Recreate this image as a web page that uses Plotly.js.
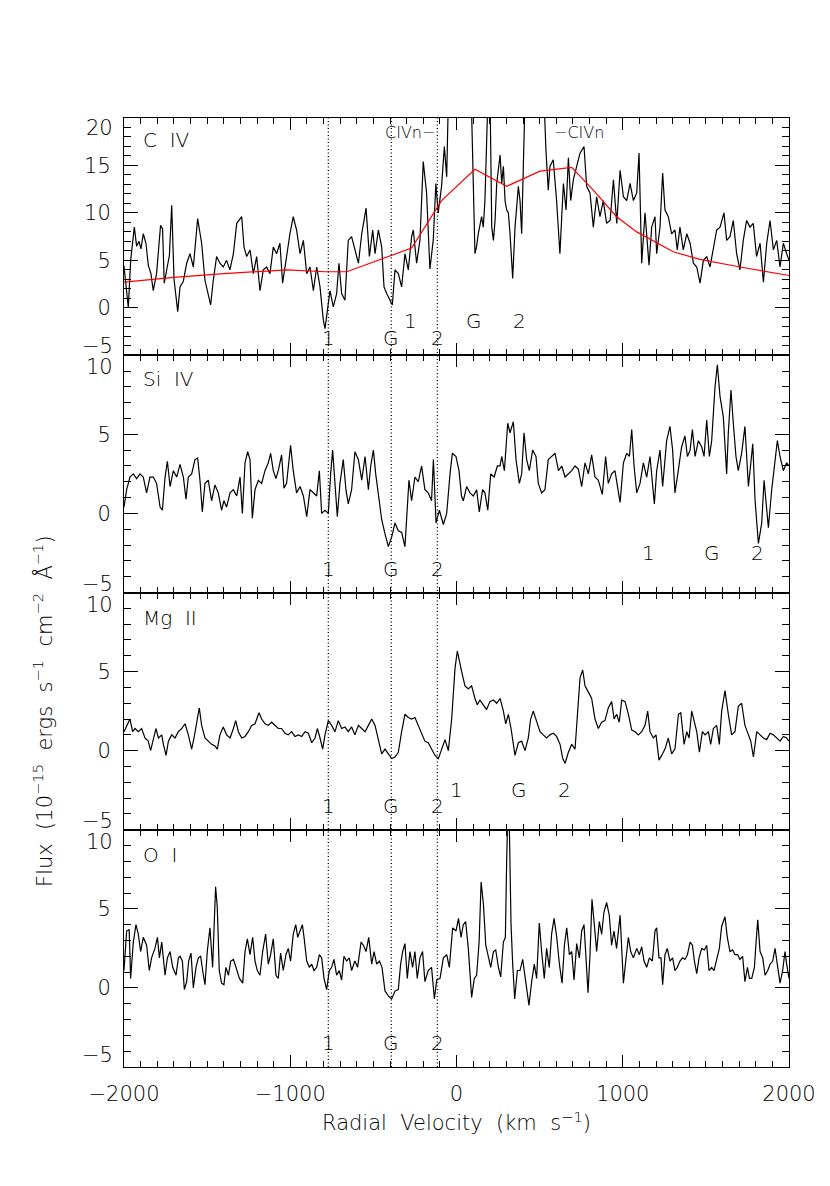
<!DOCTYPE html>
<html>
<head>
<meta charset="utf-8">
<script src="https://cdn.plot.ly/plotly-3.0.1.min.js"></script>
<style>
  body { margin: 0; background: #fff; }
  #graph { width: 830px; height: 1186px; }
</style>
</head>
<body>
<div id="graph"></div>
<script>
// ---------- data (velocity in km/s, flux in 1e-15 erg/s/cm2/A) ----------
const civVel = [
  -2000,-1984,-1974,-1960,-1938,-1924,-1910,-1898,-1884,-1868,
  -1854,-1838,-1824,-1804,-1780,-1768,-1758,-1740,-1727,-1713,
  -1699,-1677,-1663,-1643,-1623,-1603,-1583,-1557,-1533,-1513,
  -1479,-1463,-1443,-1423,-1403,-1383,-1363,-1342,-1322,-1292,
  -1278,-1262,-1242,-1222,-1202,-1182,-1162,-1142,-1122,-1102,
  -1082,-1062,-1046,-1022,-1002,-982,-962,-941,-921,-901,
  -881,-861,-841,-821,-801,-791,-771,-761,-741,-721,
  -707,-691,-671,-651,-631,-611,-590,-570,-544,-524,
  -504,-490,-470,-450,-436,-420,-400,-386,-370,-350,
  -330,-310,-290,-270,-260,-240,-220,-200,-180,-160,
  -140,-124,-110,-90,-73,-59,-49,-20,20,60,
  91,101,111,121,131,151,161,171,181,192,
  202,212,222,232,242,262,272,282,292,302,
  312,322,338,352,372,382,392,402,412,440,
  480,520,538,552,562,582,602,622,643,659,
  673,687,703,723,743,767,783,803,823,843,
  863,883,903,924,944,964,984,1004,1024,1044,
  1064,1084,1098,1114,1134,1158,1174,1194,1204,1224,
  1240,1254,1274,1294,1314,1328,1344,1364,1385,1405,
  1425,1445,1465,1485,1505,1525,1545,1565,1585,1609,
  1625,1645,1665,1685,1705,1725,1745,1765,1785,1805,
  1826,1846,1866,1886,1906,1926,1946,1966,1986,2000
];
const civFlux = [
  4.4,2.0,0.0,5.0,8.5,6.5,7.0,6.2,7.8,6.8,
  4.5,3.6,1.8,3.6,8.7,8.3,2.6,4.3,5.5,10.8,
  3.0,-0.4,2.2,2.8,4.7,5.7,4.3,9.4,6.8,2.9,
  0.3,2.9,5.4,4.7,4.3,5.0,4.0,5.7,8.9,9.6,
  6.4,5.4,6.1,3.6,5.4,1.8,4.0,4.3,3.6,6.4,
  5.7,6.8,2.6,5.4,7.8,9.6,8.2,5.7,7.1,3.6,
  4.3,1.8,4.3,2.2,-1.3,-2.2,0.8,1.8,0.1,1.5,
  4.7,1.5,0.8,7.1,7.5,6.1,4.7,7.8,10.5,5.4,
  8.2,5.7,8.2,6.4,2.2,1.5,0.8,0.3,4.0,3.6,
  2.2,5.7,4.0,7.5,8.2,4.7,7.1,15.4,12.1,4.1,
  7.1,13.1,10.0,12.8,17.0,13.8,22,26,27,25,
  20.5,12.0,5.7,6.5,7.8,9.6,8.5,11.3,18.4,24,
  22,8.5,7.1,9.2,13.1,16.1,13.1,14.9,11.3,10.3,
  10.0,7.8,3.1,8.5,12.8,11.3,7.8,16.6,22,26,
  28,25,16.6,12.4,14.9,15.6,11.3,5.7,13.1,10.3,
  15.8,11.3,13.5,14.9,16.3,17.0,12.8,12.1,8.5,11.7,
  9.6,11.3,8.9,9.2,13.5,8.9,14.5,11.7,11.3,13.1,
  11.3,12.1,16.3,4.7,10.0,4.5,8.5,9.6,5.7,8.5,
  14.2,10.3,9.6,7.8,8.2,6.1,8.5,6.1,7.8,6.8,
  4.7,4.3,2.6,5.0,5.4,4.3,6.4,8.2,8.5,10.0,
  7.1,7.5,9.2,5.7,4.0,7.1,9.2,8.5,8.9,5.4,
  6.8,2.7,6.8,9.2,6.1,7.1,4.3,6.8,5.7,5.0
];
// continuum fit drawn in red on the C IV panel
const civContVel = [-2000,-1700,-1400,-1020,-790,-660,-270,-90,111,302,502,693,823,963,1084,1304,1465,1705,2000];
const civContFlux = [2.7,3.2,3.6,4.0,3.8,3.8,6.3,11.3,14.6,12.8,14.4,14.8,12.4,9.6,8.0,5.9,5.1,4.3,3.4];

const siivVel = [
  -2000,-1984,-1964,-1944,-1924,-1904,-1884,-1864,-1844,-1824,
  -1804,-1783,-1769,-1753,-1739,-1723,-1703,-1683,-1663,-1643,
  -1627,-1613,-1593,-1573,-1557,-1543,-1529,-1513,-1493,-1473,
  -1453,-1433,-1413,-1399,-1383,-1362,-1342,-1322,-1302,-1288,
  -1272,-1256,-1242,-1228,-1212,-1192,-1172,-1152,-1132,-1118,
  -1102,-1086,-1072,-1052,-1038,-1022,-998,-982,-962,-941,
  -921,-901,-881,-861,-841,-825,-811,-791,-771,-757,
  -745,-731,-717,-701,-681,-665,-651,-631,-611,-590,
  -570,-550,-530,-516,-500,-486,-470,-450,-430,-410,
  -390,-370,-350,-330,-310,-300,-286,-270,-250,-230,
  -210,-190,-170,-150,-139,-123,-103,-79,-59,-39,
  -25,-3,15,30,41,61,81,101,121,137,
  157,171,188,206,226,246,262,272,288,308,
  322,342,358,378,392,406,422,438,458,478,
  492,512,532,552,572,593,613,633,653,673,
  693,713,733,753,773,793,813,833,853,877,
  897,913,933,953,984,1004,1024,1040,1054,1068,
  1084,1104,1124,1144,1164,1190,1204,1224,1240,1264,
  1284,1300,1314,1334,1354,1374,1389,1405,1419,1435,
  1455,1475,1489,1505,1521,1535,1555,1569,1585,1605,
  1625,1635,1651,1665,1681,1695,1715,1735,1756,1782,
  1796,1816,1836,1850,1876,1896,1916,1930,1946,1966,
  1986,2000
];
const siivFlux = [
  0.4,1.5,2.3,2.5,2.2,2.5,2.3,1.3,2.3,2.3,
  1.9,0.4,0.2,2.3,3.3,1.7,2.7,2.3,3.1,2.3,
  0.9,2.3,2.5,3.4,3.5,2.1,0.1,1.9,2.1,0.8,
  1.8,1.3,0.2,0.8,0.4,1.3,1.5,1.1,2.3,0.0,
  3.2,3.9,3.4,-0.3,1.5,2.1,1.9,2.7,3.2,3.8,
  2.7,2.2,2.7,3.7,1.6,1.9,4.3,2.7,1.3,1.7,
  1.1,-0.2,1.5,1.3,1.1,2.7,0.0,0.2,0.0,2.5,
  4.0,1.9,-0.2,1.9,3.4,1.5,0.6,1.5,3.9,3.4,
  2.1,3.6,1.5,3.0,4.0,2.5,1.1,-0.4,-1.3,-2.1,
  -1.5,-0.6,-1.1,-1.2,-2.1,-0.6,2.1,0.8,2.3,2.0,
  3.0,1.5,1.3,0.8,3.4,-0.6,0.2,-0.7,0.0,2.5,
  3.8,3.6,2.7,1.1,0.8,1.7,1.3,1.1,1.5,0.1,
  1.5,1.3,0.2,2.5,2.3,3.0,3.0,3.6,2.7,5.7,
  5.1,5.8,3.4,1.9,2.5,5.1,3.4,2.7,4.0,3.6,
  1.9,1.3,1.5,3.4,3.6,3.8,2.7,3.0,2.3,2.5,
  2.7,3.0,2.8,1.7,3.2,2.5,3.7,2.3,2.1,1.2,
  3.6,1.9,2.5,2.7,0.7,3.2,3.8,3.6,5.3,3.0,
  1.3,1.9,3.2,2.3,3.6,0.6,2.7,4.0,1.7,4.6,
  5.5,4.0,1.3,2.7,4.2,4.9,3.6,4.0,5.3,3.6,
  4.6,4.2,3.6,5.9,3.6,4.6,8.0,9.4,7.4,6.1,
  2.5,5.1,7.8,5.7,3.6,2.7,3.8,5.5,1.7,4.4,
  0.8,-1.9,-0.6,2.1,-0.9,1.5,3.4,4.6,3.6,2.7,
  3.2,3.0
];

const mgiiVel = [
  -2000,-1984,-1964,-1948,-1934,-1914,-1894,-1874,-1854,-1840,
  -1824,-1808,-1793,-1773,-1763,-1747,-1733,-1713,-1693,-1673,
  -1653,-1633,-1613,-1593,-1579,-1559,-1547,-1533,-1513,-1493,
  -1473,-1453,-1439,-1423,-1403,-1383,-1362,-1342,-1328,-1312,
  -1292,-1272,-1252,-1232,-1212,-1188,-1172,-1152,-1132,-1112,
  -1092,-1072,-1052,-1032,-1012,-992,-972,-951,-931,-911,
  -891,-871,-851,-837,-821,-805,-791,-771,-751,-731,
  -711,-691,-671,-651,-631,-611,-590,-570,-550,-530,
  -510,-490,-470,-450,-430,-410,-390,-370,-350,-330,
  -310,-290,-270,-250,-230,-210,-190,-170,-150,-129,
  -109,-89,-69,-49,-29,-9,5,
  31,51,71,91,111,125,141,161,181,201,
  222,242,262,282,296,312,328,352,372,392,
  412,432,446,462,482,502,522,542,562,582,
  602,623,639,653,673,693,713,727,743,759,
  773,793,813,833,853,873,893,913,933,948,
  963,979,994,1014,1034,1054,1074,1094,1114,1134,
  1150,1164,1184,1200,1218,1234,1254,1274,1294,1314,
  1335,1349,1369,1385,1399,1415,1429,1445,1461,1479,
  1495,1515,1529,1545,1565,1581,1595,1615,1635,1655,
  1675,1695,1715,1735,1756,1770,1786,1806,1826,1846,
  1866,1886,1906,1926,1946,1966,1986,2000
];
const mgiiFlux = [
  1.2,1.6,2.0,1.2,1.4,1.2,1.4,0.8,0.6,0.0,
  0.8,1.4,0.8,1.0,0.4,-0.3,0.6,1.0,0.8,1.2,
  1.4,1.7,1.0,0.1,0.8,2.0,2.7,1.6,0.8,0.6,
  0.4,0.3,0.1,1.0,1.5,1.0,0.8,1.4,1.9,1.2,
  0.8,0.9,1.2,1.6,1.7,2.4,2.0,1.7,1.6,1.8,
  1.6,1.4,1.4,1.1,1.0,1.2,0.9,1.0,0.9,1.2,
  1.1,0.5,0.8,1.4,0.8,0.1,1.0,1.9,1.6,1.2,
  1.9,1.4,1.5,1.2,1.5,1.0,1.6,1.4,1.2,1.6,
  2.0,1.6,0.6,-0.2,0.1,-0.2,-0.5,-0.4,-0.1,1.2,
  2.3,2.1,2.0,2.1,1.6,1.0,0.6,0.5,0.1,-0.3,
  -0.5,0.1,0.7,0.0,2.0,5.2,6.3,
  5.0,4.1,3.9,4.1,3.3,2.9,3.2,2.9,2.6,3.1,
  3.2,3.0,3.3,2.5,1.7,2.3,1.4,-0.3,0.5,0.6,
  0.0,0.8,2.0,2.5,1.8,1.2,1.0,0.8,1.0,1.1,
  0.9,0.4,-0.5,-0.8,-0.1,0.4,0.1,2.5,4.6,5.1,
  4.1,3.7,3.3,2.0,1.4,1.8,1.9,2.7,3.1,2.0,
  2.3,1.8,3.2,3.1,2.3,1.3,1.2,1.0,1.2,1.6,
  2.5,1.2,0.8,1.0,-0.6,-0.3,0.1,0.8,-0.2,0.1,
  2.3,2.4,0.4,1.2,0.8,2.5,1.8,1.2,-0.1,1.2,
  1.0,1.2,0.4,1.4,1.6,0.4,2.5,3.8,2.3,1.0,
  1.2,2.8,3.0,1.6,1.0,0.6,-0.4,1.2,1.0,0.8,
  0.7,1.1,1.0,0.8,0.6,0.9,0.8,0.6
];

const oiVel = [
  -2000,-1984,-1969,-1960,-1944,-1928,-1914,-1900,-1884,-1864,
  -1848,-1834,-1814,-1799,-1787,-1773,-1753,-1739,-1723,-1707,
  -1687,-1673,-1663,-1649,-1637,-1623,-1611,-1597,-1583,-1567,
  -1553,-1539,-1527,-1513,-1499,-1483,-1467,-1457,-1449,-1439,
  -1427,-1413,-1399,-1387,-1372,-1358,-1342,-1326,-1306,-1286,
  -1272,-1258,-1242,-1226,-1212,-1198,-1182,-1166,-1148,-1132,
  -1118,-1102,-1086,-1072,-1058,-1042,-1026,-1012,-998,-982,
  -967,-955,-941,-927,-917,-901,-885,-871,-857,-841,
  -825,-811,-797,-781,-765,-751,-737,-721,-705,-691,
  -677,-661,-645,-631,-611,-595,-574,-560,-544,-528,
  -510,-496,-480,-464,-448,-430,-410,-390,-370,-350,
  -336,-324,-310,-296,-280,-264,-250,-236,-220,-204,
  -190,-170,-150,-133,-119,-99,-79,-59,-43,-23,
  -3,12,
  27,41,55,71,91,107,121,136,148,162,
  176,192,206,222,236,252,266,282,294,302,
  310,318,328,338,350,366,382,398,412,426,
  436,452,468,482,498,512,528,542,558,572,
  587,603,619,635,649,663,679,693,707,723,
  739,753,767,779,791,803,815,829,843,859,
  873,887,903,919,933,947,963,984,1004,1020,
  1034,1048,1064,1084,1100,1114,1128,1144,1160,1178,
  1194,1204,1218,1230,1240,1254,1268,1284,1300,1314,
  1328,1344,1360,1374,1389,1405,1419,1431,1445,1459,
  1475,1491,1505,1519,1535,1549,1565,1581,1595,1615,
  1629,1645,1661,1675,1691,1705,1721,1735,1750,1762,
  1776,1792,1802,1812,1826,1842,1856,1872,1886,1902,
  1916,1930,1946,1962,1976,1986,2000
];
const oiFlux = [
  1.1,3.6,3.7,0.6,2.9,4.0,3.4,2.3,3.2,2.7,
  1.1,1.9,2.5,3.2,1.9,2.9,0.8,1.9,2.3,1.3,
  0.8,1.9,2.0,1.7,-0.1,0.4,1.7,2.2,0.0,1.3,
  1.9,2.0,1.1,0.2,2.3,3.8,1.3,4.4,6.4,5.1,
  1.1,0.3,0.2,1.3,0.8,1.7,1.8,1.3,0.6,0.3,
  2.3,3.1,2.1,3.2,1.7,1.1,0.8,2.3,3.4,1.5,
  2.1,3.1,0.8,0.6,2.2,1.1,2.1,2.5,1.7,3.4,
  4.0,3.2,3.6,4.0,3.2,1.7,1.3,1.5,1.1,1.3,
  2.1,1.9,0.6,-0.1,1.1,1.3,1.8,0.8,1.1,0.5,
  2.0,1.7,1.9,1.1,1.7,1.3,2.9,2.7,2.3,3.2,
  1.5,2.3,1.5,1.7,1.3,-0.2,-0.5,-0.7,-0.2,-0.1,
  1.5,2.3,2.8,0.6,2.3,1.3,2.3,0.6,1.9,2.3,
  0.4,1.1,1.3,-0.7,0.5,0.6,1.9,2.1,1.3,3.8,
  3.6,4.4,
  3.2,4.0,4.2,2.5,-0.6,0.6,0.8,2.9,6.7,5.3,
  2.7,1.9,1.3,2.3,2.4,1.3,0.7,2.9,3.2,8.2,
  11.5,10.1,4.0,1.5,-0.7,1.1,1.1,1.8,0.6,-0.3,
  -1.1,0.4,1.5,0.6,4.1,2.3,0.6,2.5,1.3,3.4,
  4.4,3.2,1.5,0.3,2.7,3.8,2.1,2.3,0.5,2.8,
  1.9,3.6,4.0,1.9,-0.3,2.1,5.6,4.0,2.3,4.2,
  3.4,4.8,5.4,4.6,2.7,3.6,2.5,4.6,0.3,1.9,
  3.2,2.3,1.9,2.5,2.1,2.6,1.7,1.3,1.9,1.7,
  3.6,3.8,1.9,1.9,0.2,2.1,2.5,1.7,1.9,1.1,
  1.3,1.7,1.9,1.8,2.1,2.9,2.7,1.7,0.9,1.9,
  2.5,2.4,2.7,1.1,1.3,1.1,1.9,2.5,3.9,4.5,
  3.2,2.3,2.4,2.1,2.1,1.8,2.0,0.4,1.3,0.6,
  0.6,1.3,2.9,4.3,2.3,1.9,0.8,1.1,1.5,1.7,
  2.5,1.5,0.3,1.1,2.3,1.5,0.6
];

// absorber velocities (dotted lines) and their labels
const markVel = [-771, -392, -115];
const markText = ['1', 'G', '2'];
// same absorbers seen in the second doublet member
const civnMarkVel = [-275, 105, 380];
const siivMarkVel = [1155, 1537, 1810];
const mgiiMarkVel = [-3, 378, 652];

const panelNames = ['C\u00a0\u00a0IV', 'Si\u00a0\u00a0IV', 'Mg\u00a0\u00a0II', 'O\u00a0\u00a0I'];

// ---------- styling ----------
const FAM = 'DejaVu Sans, sans-serif';
const tickFont = { family: FAM, size: 21, color: 'black', weight: 300 };
const textFont = { family: FAM, size: 20, color: 'black', weight: 300 };

function xAxis(anchor, showLabels) {
  return {
    anchor: anchor, domain: [0, 1], range: [-2000, 2000],
    ticks: 'inside', ticklen: 12, tickwidth: 1, tickcolor: 'black',
    tick0: 0, dtick: 1000,
    minor: { ticks: 'inside', ticklen: 6, tickwidth: 1, tickcolor: 'black', tick0: 0, dtick: 100, showgrid: false },
    showline: true, linecolor: 'black', linewidth: 1, mirror: 'allticks',
    showgrid: false, zeroline: false,
    showticklabels: showLabels, tickfont: tickFont, ticklabelstandoff: 8
  };
}
function yAxis(anchor, domain, range, vals) {
  return {
    anchor: anchor, domain: domain, range: range,
    ticks: 'inside', ticklen: 14, tickwidth: 1, tickcolor: 'black',
    tickmode: 'array', tickvals: vals,
    minor: { ticks: 'inside', ticklen: 7, tickwidth: 1, tickcolor: 'black', tick0: 0, dtick: 1, showgrid: false },
    showline: true, linecolor: 'black', linewidth: 1, mirror: 'allticks',
    showgrid: false, zeroline: false,
    tickfont: tickFont, ticklabelstandoff: 8
  };
}

const black = { color: 'black', width: 1.2 };
const data = [
  { x: civVel, y: civFlux, xaxis: 'x', yaxis: 'y', mode: 'lines', line: black },
  { x: civContVel, y: civContFlux, xaxis: 'x', yaxis: 'y', mode: 'lines', line: { color: 'red', width: 1.2 } },
  { x: siivVel, y: siivFlux, xaxis: 'x2', yaxis: 'y2', mode: 'lines', line: black },
  { x: mgiiVel, y: mgiiFlux, xaxis: 'x3', yaxis: 'y3', mode: 'lines', line: black },
  { x: oiVel, y: oiFlux, xaxis: 'x4', yaxis: 'y4', mode: 'lines', line: black }
];

const yNames = ['y', 'y2', 'y3', 'y4'];
const xNames = ['x', 'x2', 'x3', 'x4'];
const annotations = [];

// panel names
const nameY = [17.65, 8.5, 8.4, 8.4];
panelNames.forEach((t, i) => {
  annotations.push({ xref: xNames[i], yref: yNames[i], x: -1900, y: nameY[i], xanchor: 'left', yanchor: 'middle',
    text: t, showarrow: false, font: textFont });
});

// absorber labels under the dotted lines
const lowY = [-3.2, -3.5, -3.5, -3.5];
yNames.forEach((yn, i) => {
  markVel.forEach((v, j) => {
    annotations.push({ xref: xNames[i], yref: yn, x: v, y: lowY[i], text: markText[j], showarrow: false, font: textFont });
  });
});
const secondRows = [[civnMarkVel, 'y', -1.4], [siivMarkVel, 'y2', -2.5], [mgiiMarkVel, 'y3', -2.5]];
secondRows.forEach(([vels, yn, yv]) => {
  vels.forEach((v, j) => {
    annotations.push({ xref: 'x', yref: yn, x: v, y: yv, text: markText[j], showarrow: false, font: textFont });
  });
});

// CIVn labels
const smallFont = { family: FAM, size: 16, color: 'black', weight: 300 };
annotations.push({ xref: 'x', yref: 'y', x: -115, y: 18.5, xanchor: 'right', text: 'CIVn\u2212', showarrow: false, font: smallFont });
annotations.push({ xref: 'x', yref: 'y', x: 573, y: 18.5, xanchor: 'left', text: '\u2212CIVn', showarrow: false, font: smallFont });

// y tick labels that sit on the panel borders
const edgeLabels = [['y', 20, '20', -10], ['y', -5, '\u22125', 9],
  ['y2', 10, '10', -12], ['y2', -5, '\u22125', 9],
  ['y3', 10, '10', -12], ['y3', -5, '\u22125', 9],
  ['y4', 10, '10', -12], ['y4', -5, '\u22125', 12]];
edgeLabels.forEach(([yn, v, t, s]) => {
  annotations.push({ xref: 'paper', yref: yn, x: 0, y: v, xanchor: 'right', yanchor: 'middle', xshift: -9, yshift: s,
    text: t, showarrow: false, font: tickFont });
});

// dotted velocity markers through all panels
const shapes = markVel.map(v => ({
  type: 'line', xref: 'x', yref: 'paper', x0: v, x1: v, y0: 0, y1: 1,
  line: { color: 'black', width: 1.3, dash: '1px,2.5px' }
}));

const layout = {
  width: 830, height: 1186,
  margin: { l: 124, r: 41, t: 118, b: 119 },
  paper_bgcolor: 'white', plot_bgcolor: 'white',
  showlegend: false,
  font: textFont,
  xaxis: xAxis('y', false),
  xaxis2: Object.assign(xAxis('y2', false), { matches: 'x' }),
  xaxis3: Object.assign(xAxis('y3', false), { matches: 'x' }),
  xaxis4: Object.assign(xAxis('y4', true), {
    matches: 'x',
    title: { text: 'Radial\u00a0\u00a0Velocity\u00a0\u00a0(km\u00a0\u00a0s<sup>\u22121</sup>)', font: tickFont, standoff: 10 }
  }),
  yaxis: yAxis('x', [0.75, 1], [-5, 20], [0, 5, 10, 15]),
  yaxis2: yAxis('x2', [0.5, 0.75], [-5, 10], [0, 5]),
  yaxis3: Object.assign(yAxis('x3', [0.25, 0.5], [-5, 10], [0, 5]), {
    title: { text: 'Flux\u00a0\u00a0(10<sup>\u221215</sup>\u00a0\u00a0ergs\u00a0\u00a0s<sup>\u22121</sup>\u00a0\u00a0cm<sup>\u22122</sup>\u00a0\u00a0\u00c5<sup>\u22121</sup>)',
      font: tickFont, standoff: 39 }
  }),
  yaxis4: yAxis('x4', [0, 0.25], [-5, 10], [0, 5]),
  annotations: annotations,
  shapes: shapes
};

Plotly.newPlot('graph', data, layout, { displayModeBar: false, staticPlot: true });
</script>
</body>
</html>
